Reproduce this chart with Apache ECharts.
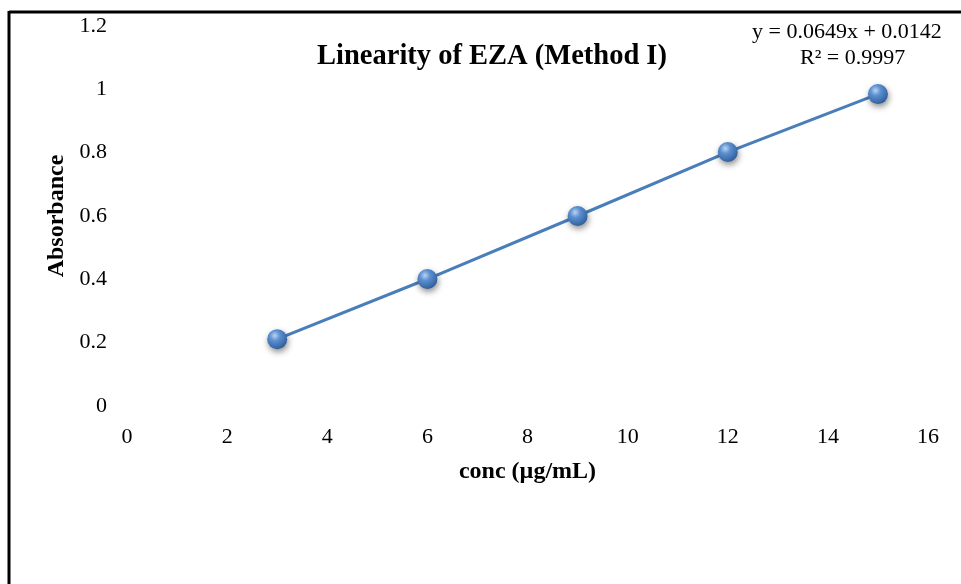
<!DOCTYPE html>
<html><head><meta charset="utf-8">
<script src="https://cdn.jsdelivr.net/npm/echarts@6/dist/echarts.min.js"></script>
<style>html,body{margin:0;padding:0;background:#fff}#c{width:961px;height:584px}</style>
</head><body><div id="c"></div>
<script>
const conc = [3, 6, 9, 12, 15];
const absorbance = [0.211, 0.401, 0.600, 0.802, 0.985];
const titleText = 'Linearity of EZA (Method I)';
const eqText = 'y = 0.0649x + 0.0142';
const r2Text = 'R² = 0.9997';

const chart = echarts.init(document.getElementById('c'));
const font = "'Liberation Serif','Times New Roman',serif";
chart.setOption({
  animation: false,
  backgroundColor: '#fff',
  title: {
    text: titleText, left: 487, top: 37, textAlign: 'center',
    textStyle: {fontFamily: font, fontWeight: 'bold', fontSize: 28.5, color: '#000'}
  },
  grid: {left: 127, right: 33, top: 26, bottom: 178},
  xAxis: {
    type: 'value', min: 0, max: 16, interval: 2,
    name: 'conc (µg/mL)', nameLocation: 'middle', nameGap: 54,
    nameTextStyle: {fontFamily: font, fontWeight: 'bold', fontSize: 24, color: '#000'},
    axisLine: {show: false}, axisTick: {show: false}, splitLine: {show: false},
    axisLabel: {fontFamily: font, fontSize: 22, color: '#000', margin: 20}
  },
  yAxis: {
    type: 'value', min: 0, max: 1.2, interval: 0.2,
    name: 'Absorbance', nameLocation: 'middle', nameGap: 54,
    nameTextStyle: {fontFamily: font, fontWeight: 'bold', fontSize: 24, color: '#000'},
    axisLine: {show: false}, axisTick: {show: false}, splitLine: {show: false},
    axisLabel: {fontFamily: font, fontSize: 22, color: '#000', margin: 20,
      formatter: v => String(Math.round(v*10)/10)}
  },
  graphic: [
    {type: 'line', shape: {x1: 9, y1: 12, x2: 961, y2: 12}, style: {stroke: '#000', lineWidth: 3}},
    {type: 'line', shape: {x1: 9, y1: 11, x2: 9, y2: 584}, style: {stroke: '#000', lineWidth: 3}},
    {type: 'text', left: 752, top: 21, style: {text: eqText, font: "22px " + font, fill: '#000'}},
    {type: 'text', left: 800, top: 47, style: {text: r2Text, font: "22px " + font, fill: '#000'}}
  ],
  series: [{
    type: 'line',
    data: conc.map((c, i) => [c, absorbance[i]]),
    lineStyle: {color: '#4a7ebb', width: 3},
    symbol: 'circle', symbolSize: 20,
    itemStyle: {
      color: {type: 'radial', x: 0.38, y: 0.32, r: 0.75, colorStops: [
        {offset: 0, color: '#b9d3f2'}, {offset: 0.35, color: '#5b8fd0'},
        {offset: 0.8, color: '#3a6aa8'}, {offset: 1, color: '#2a5289'}]},
      shadowBlur: 6, shadowColor: 'rgba(0,0,0,0.45)', shadowOffsetY: 3, shadowOffsetX: 1
    },
    z: 3
  }]
});
</script></body></html>
